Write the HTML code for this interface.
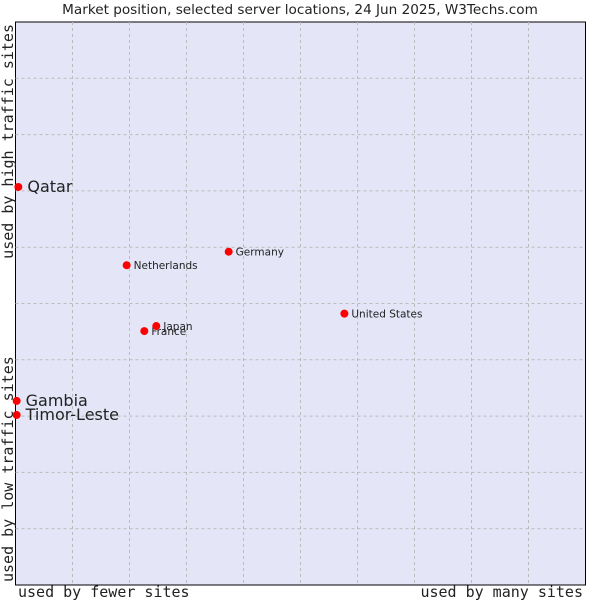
<!DOCTYPE html>
<html><head><meta charset="utf-8"><style>
body{margin:0;background:#fff;}
svg text{font-family:"DejaVu Sans","Liberation Sans",sans-serif;fill:#222;}
</style></head><body>
<svg id="chart" width="600" height="600" xmlns="http://www.w3.org/2000/svg">
<text x="300" y="14" text-anchor="middle" font-size="13.6">Market position, selected server locations, 24 Jun 2025, W3Techs.com</text>
<rect x="15.5" y="22" width="570" height="563" fill="#e4e6f8" stroke="#000" stroke-width="1"/>
<g id="grid"></g>
<g id="points"></g>
<text x="18" y="597" font-size="15" style="font-family:'DejaVu Sans Mono','Liberation Mono',monospace">used by fewer sites</text>
<text x="583" y="597" text-anchor="end" font-size="15" style="font-family:'DejaVu Sans Mono','Liberation Mono',monospace">used by many sites</text>
<text transform="translate(13,24) rotate(-90)" text-anchor="end" font-size="15" style="font-family:'DejaVu Sans Mono','Liberation Mono',monospace">used by high traffic sites</text>
<text transform="translate(13,582) rotate(-90)" font-size="15" style="font-family:'DejaVu Sans Mono','Liberation Mono',monospace">used by low traffic sites</text>
</svg>
<script>
const names=["Qatar","Gambia","Timor-Leste","Netherlands","Germany","France","Japan","United States"];
const xVals=[0.5,0.2,0.2,19.5,37.4,22.6,24.7,57.7];
const yVals=[70.7,32.7,30.2,56.8,59.2,45.1,46.0,48.2];
const bigLabel=[true,true,true,false,false,false,false,false];
const L=15.5,T=22,W=570,H=563;
const xs=v=>L+v/100*W, ys=v=>T+H-v/100*H;
const NS="http://www.w3.org/2000/svg";
const g=document.getElementById('grid');
for(let i=1;i<10;i++){
 const a=document.createElementNS(NS,'line');
 
 
 a.setAttribute('x1',xs(i*10));a.setAttribute('x2',xs(i*10));a.setAttribute('y1',T);a.setAttribute('y2',T+H);
 a.setAttribute('stroke','#bbbbbb');a.setAttribute('stroke-dasharray','3,3');g.appendChild(a);
 const b=document.createElementNS(NS,'line');
 
 
 b.setAttribute('y1',ys(i*10));b.setAttribute('y2',ys(i*10));b.setAttribute('x1',L);b.setAttribute('x2',L+W);
 b.setAttribute('stroke','#bbbbbb');b.setAttribute('stroke-dasharray','3,3');g.appendChild(b);
}
const p=document.getElementById('points');
names.forEach((n,i)=>{
 const c=document.createElementNS(NS,'circle');
 
 
 c.setAttribute('cx',xs(xVals[i]));c.setAttribute('cy',ys(yVals[i]));c.setAttribute('r',4);c.setAttribute('fill','#ff0000');
 p.appendChild(c);
 const t=document.createElementNS(NS,'text');
 
 
 const big=bigLabel[i];
 t.setAttribute('x',xs(xVals[i])+(big?9:7));t.setAttribute('y',ys(yVals[i])+(big?5:4));
 t.setAttribute('font-size',big?16:10.5);t.textContent=n;p.appendChild(t);
});
</script>
</body></html>
